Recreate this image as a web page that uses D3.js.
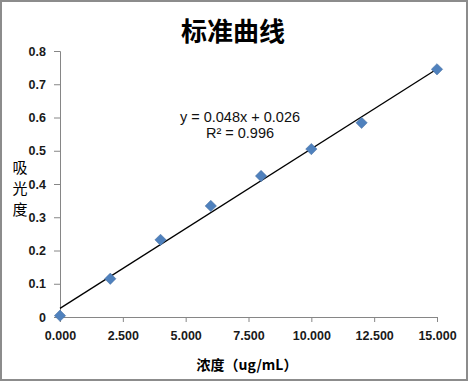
<!DOCTYPE html>
<html>
<head>
<meta charset="utf-8">
<script src="https://cdn.jsdelivr.net/npm/d3@7"></script>
<style>
  body { margin: 0; background: #fff; }
  svg { display: block; }
</style>
</head>
<body>
<script>
// data
var concentrations = [0, 2, 4, 6, 8, 10, 12, 15];
var absorbances = [0.004, 0.115, 0.232, 0.334, 0.424, 0.505, 0.584, 0.745];
var xTicks = [0, 2.5, 5, 7.5, 10, 12.5, 15];
var yTicks = [0, 0.1, 0.2, 0.3, 0.4, 0.5, 0.6, 0.7, 0.8];
var fit = [0.048, 0.026]; // slope, intercept
var fitLabels = ["y = 0.048x + 0.026", "R² = 0.996"];

var W = 470, H = 383;
var plot = {left: 60, right: 437, top: 51, bottom: 317};

var xScale = d3.scaleLinear().domain([0, 15]).range([plot.left, plot.right]);
var yScale = d3.scaleLinear().domain([0, 0.8]).range([plot.bottom, plot.top]);

var svg = d3.select("body").append("svg")
    .attr("width", W)
    .attr("height", H);

svg.append("rect")
    .attr("width", W).attr("height", H)
    .attr("fill", "#fff");

// outer frame
svg.append("rect")
    .attr("x", 1).attr("y", 1)
    .attr("width", 466).attr("height", 379)
    .attr("fill", "none")
    .attr("stroke", "#8c8c8c")
    .attr("stroke-width", 2);

// title
svg.append("text")
    .attr("x", 233).attr("y", 41)
    .attr("text-anchor", "middle")
    .attr("font-family", "Noto Sans CJK SC")
    .attr("font-weight", "bold")
    .attr("font-size", 26)
    .attr("fill", "#000")
    .text("标准曲线");

// axes
var xAxis = d3.axisBottom(xScale)
    .tickValues(xTicks)
    .tickSize(5)
    .tickPadding(9)
    .tickFormat(d3.format(".3f"));

var yAxis = d3.axisLeft(yScale)
    .tickValues(yTicks)
    .tickSize(6)
    .tickPadding(8)
    .tickFormat(function(d){ return d === 0 ? "0" : d3.format(".1f")(d); });

var gx = svg.append("g")
    .attr("transform", "translate(0," + plot.bottom + ")")
    .call(xAxis);

var gy = svg.append("g")
    .attr("transform", "translate(" + plot.left + ",0)")
    .call(yAxis);

[gx, gy].forEach(function(g){
    g.selectAll("path, line").attr("stroke", "#868686");
    g.selectAll("text")
        .attr("font-family", "Liberation Sans, Arial, sans-serif")
        .attr("font-weight", "bold")
        .attr("font-size", 12.5)
        .attr("fill", "#1a1a1a");
});

// axis titles
svg.append("text")
    .attr("x", 247).attr("y", 370)
    .attr("text-anchor", "middle")
    .attr("font-family", "Noto Sans CJK SC")
    .attr("font-weight", "bold")
    .attr("font-size", 14)
    .text("浓度（ug/mL）");

svg.append("g")
    .selectAll("text")
    .data(["吸", "光", "度"])
    .enter()
    .append("text")
    .attr("x", 20)
    .attr("y", function(d, i){ return 173 + i * 21; })
    .attr("text-anchor", "middle")
    .attr("font-family", "Noto Sans CJK SC")
    .attr("font-size", 15)
    .text(function(d){ return d; });

// trend line
var xDomain = xScale.domain();
svg.append("line")
    .attr("x1", xScale(xDomain[0]))
    .attr("y1", yScale(fit[0] * xDomain[0] + fit[1]))
    .attr("x2", xScale(xDomain[1]))
    .attr("y2", yScale(fit[0] * xDomain[1] + fit[1]))
    .attr("stroke", "#000")
    .attr("stroke-width", 1.3);

// data points
var diamond = d3.symbol().type(d3.symbolSquare).size(64);
svg.append("g")
    .selectAll("path")
    .data(concentrations)
    .enter()
    .append("path")
    .attr("d", diamond)
    .attr("transform", function(d, i){
        return "translate(" + xScale(d) + "," + yScale(absorbances[i]) + ") rotate(45)";
    })
    .attr("fill", "#4f81bd")
    .attr("stroke", "#466f9f")
    .attr("stroke-width", 0.5);

// equation label
svg.append("g")
    .selectAll("text")
    .data(fitLabels)
    .enter()
    .append("text")
    .attr("x", 240)
    .attr("y", function(d, i){ return 122 + i * 16; })
    .attr("text-anchor", "middle")
    .attr("font-family", "Liberation Sans, Arial, sans-serif")
    .attr("font-size", 14.5)
    .attr("fill", "#111")
    .text(function(d){ return d; });
</script>
</body>
</html>
